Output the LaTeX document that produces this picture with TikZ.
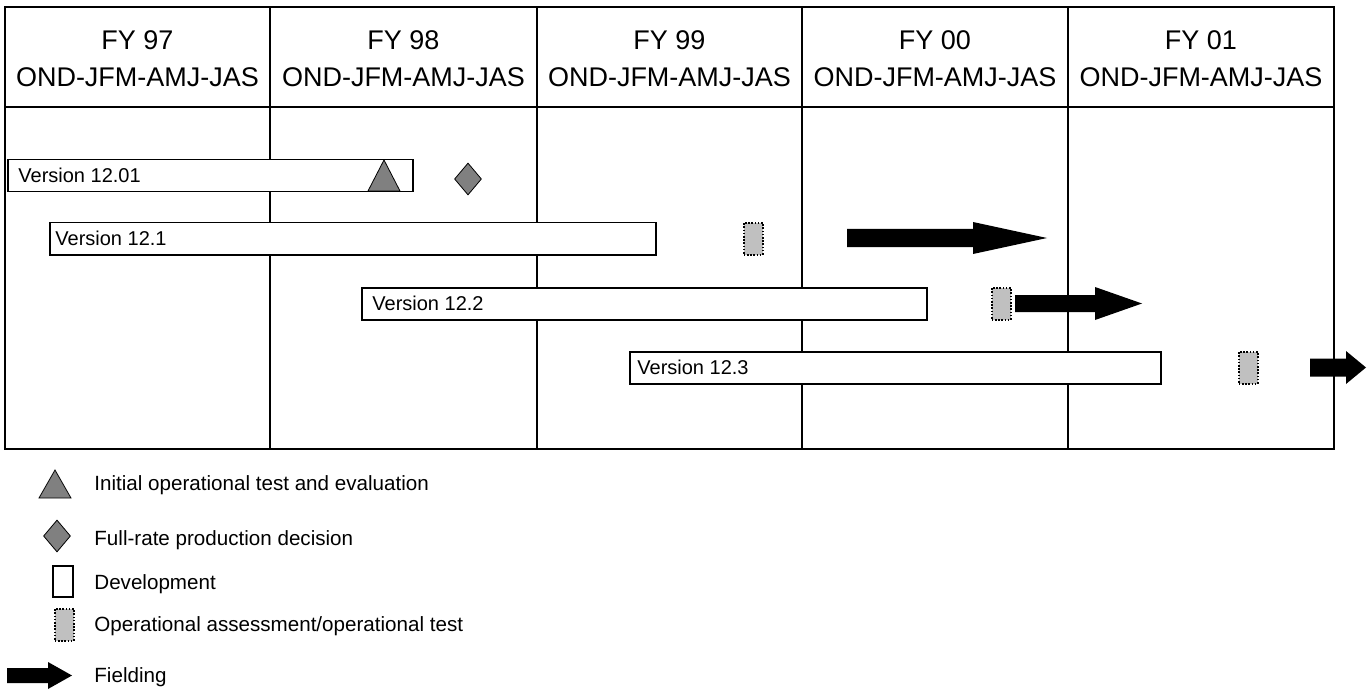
\documentclass[tikz,border=0pt]{standalone}
\usepackage{fontspec}
\setmainfont{Liberation Sans}
\usetikzlibrary{shapes.geometric}
\definecolor{markGray}{HTML}{808080}
\definecolor{testGray}{HTML}{C0C0C0}
% filled fielding arrow: start, head start, tip, mid y, half shaft, half head
\newcommand{\fieldArrow}[6]{%
  \fill[black] (#1,#4-#5) -- (#2,#4-#5) -- (#2,#4-#6) -- (#3,#4)
    -- (#2,#4+#6) -- (#2,#4+#5) -- (#1,#4+#5) -- cycle;}

\begin{document}
\begin{tikzpicture}
[x=0.5pt, y=-0.5pt,
  frameLine/.style={line width=1pt},%
  headText/.style={align=center,inner sep=0pt,font=\fontsize{13.5}{18.5}\selectfont},%
  devBar/.style={draw,fill=white,line width=0.75pt,minimum height=16pt,inner sep=0pt,anchor=north west},%
  barText/.style={inner sep=0pt,anchor=west,font=\fontsize{10}{12}\selectfont},%
  testBox/.style={draw,fill=testGray,line width=0.8pt,dash pattern=on 0.8pt off 0.8pt,
    minimum width=9.5pt,minimum height=16pt,inner sep=0pt,anchor=north west},%
  frpdMark/.style={diamond,draw,fill=markGray,line width=0.4pt,inner sep=0pt,
    minimum width=13.5pt,minimum height=16pt},%
  iotMark/.style={draw,fill=markGray,line width=0.4pt},%
  keyText/.style={inner sep=0pt,anchor=base west,font=\fontsize{10.3}{12}\selectfont}]
\useasboundingbox (0,0) rectangle (1372,690);
%% table frame
\draw[frameLine] (5,7) rectangle (1334,449);
\draw[frameLine] (5,107) -- (1334,107);
\foreach \x in {270,537,802,1068}
{
  \draw[frameLine] (\x,7) -- (\x,449);
}
%% fiscal year headings
\foreach \name/\x/\fy in {
  fy97/137.5/97, fy98/403.5/98, fy99/669.5/99, fy00/935/00, fy01/1201/01}
{
  \node (\name) at (\x,59) [headText] {FY \fy\\OND-JFM-AMJ-JAS};
}
%% development bars
\foreach \name/\xa/\xb/\ya/\dx/\lab in {
  v1201/7/412/159/11/12.01, v121/49/655/222/6/12.1,
  v122/361/926/287/11/12.2, v123/629/1160/351/8/12.3}
{
  \pgfmathsetmacro\barw{(\xb-\xa)/2}
  \node (\name) at (\xa,\ya) [devBar,minimum width=\barw pt] {};
  \node (\name text) at ([xshift=\dx*0.5pt]\name.west) [barText] {Version \lab};
}
%% milestones
\draw[iotMark] (384,160) -- (400,191) -- (368,191) -- cycle;
\node (frpd) at (468,179) [frpdMark] {};
%% operational tests
\foreach \name/\x/\y in {
  oa121/743/222, oa122/991/287, oa123/1238/351}
{
  \node (\name) at (\x,\y) [testBox] {};
}
%% fielding
\fieldArrow{847}{973}{1047}{238}{9}{16}
\fieldArrow{1015}{1095}{1142}{303.5}{8.5}{16.5}
\fieldArrow{1310}{1346}{1366}{367.5}{9}{16.5}
%% legend
\draw[iotMark] (55,470) -- (71,498) -- (39,498) -- cycle;
\node (keyiot) at (94,490.5) [keyText] {Initial operational test and evaluation};
\node (keyfrpdmark) at (57,536) [frpdMark] {};
\node (keyfrpd) at (94,545) [keyText] {Full-rate production decision};
\node (keydevbox) at (52,565) [devBar,minimum width=10pt,minimum height=15.5pt] {};
\node (keydev) at (94,589) [keyText] {Development};
\node (keytestbox) at (54,608) [testBox] {};
\node (keytest) at (94,631.5) [keyText] {Operational assessment/operational test};
\fieldArrow{7}{48}{72}{675.5}{7.5}{13.5}
\node (keyfield) at (94,682.7) [keyText] {Fielding};
\end{tikzpicture}
\end{document}
